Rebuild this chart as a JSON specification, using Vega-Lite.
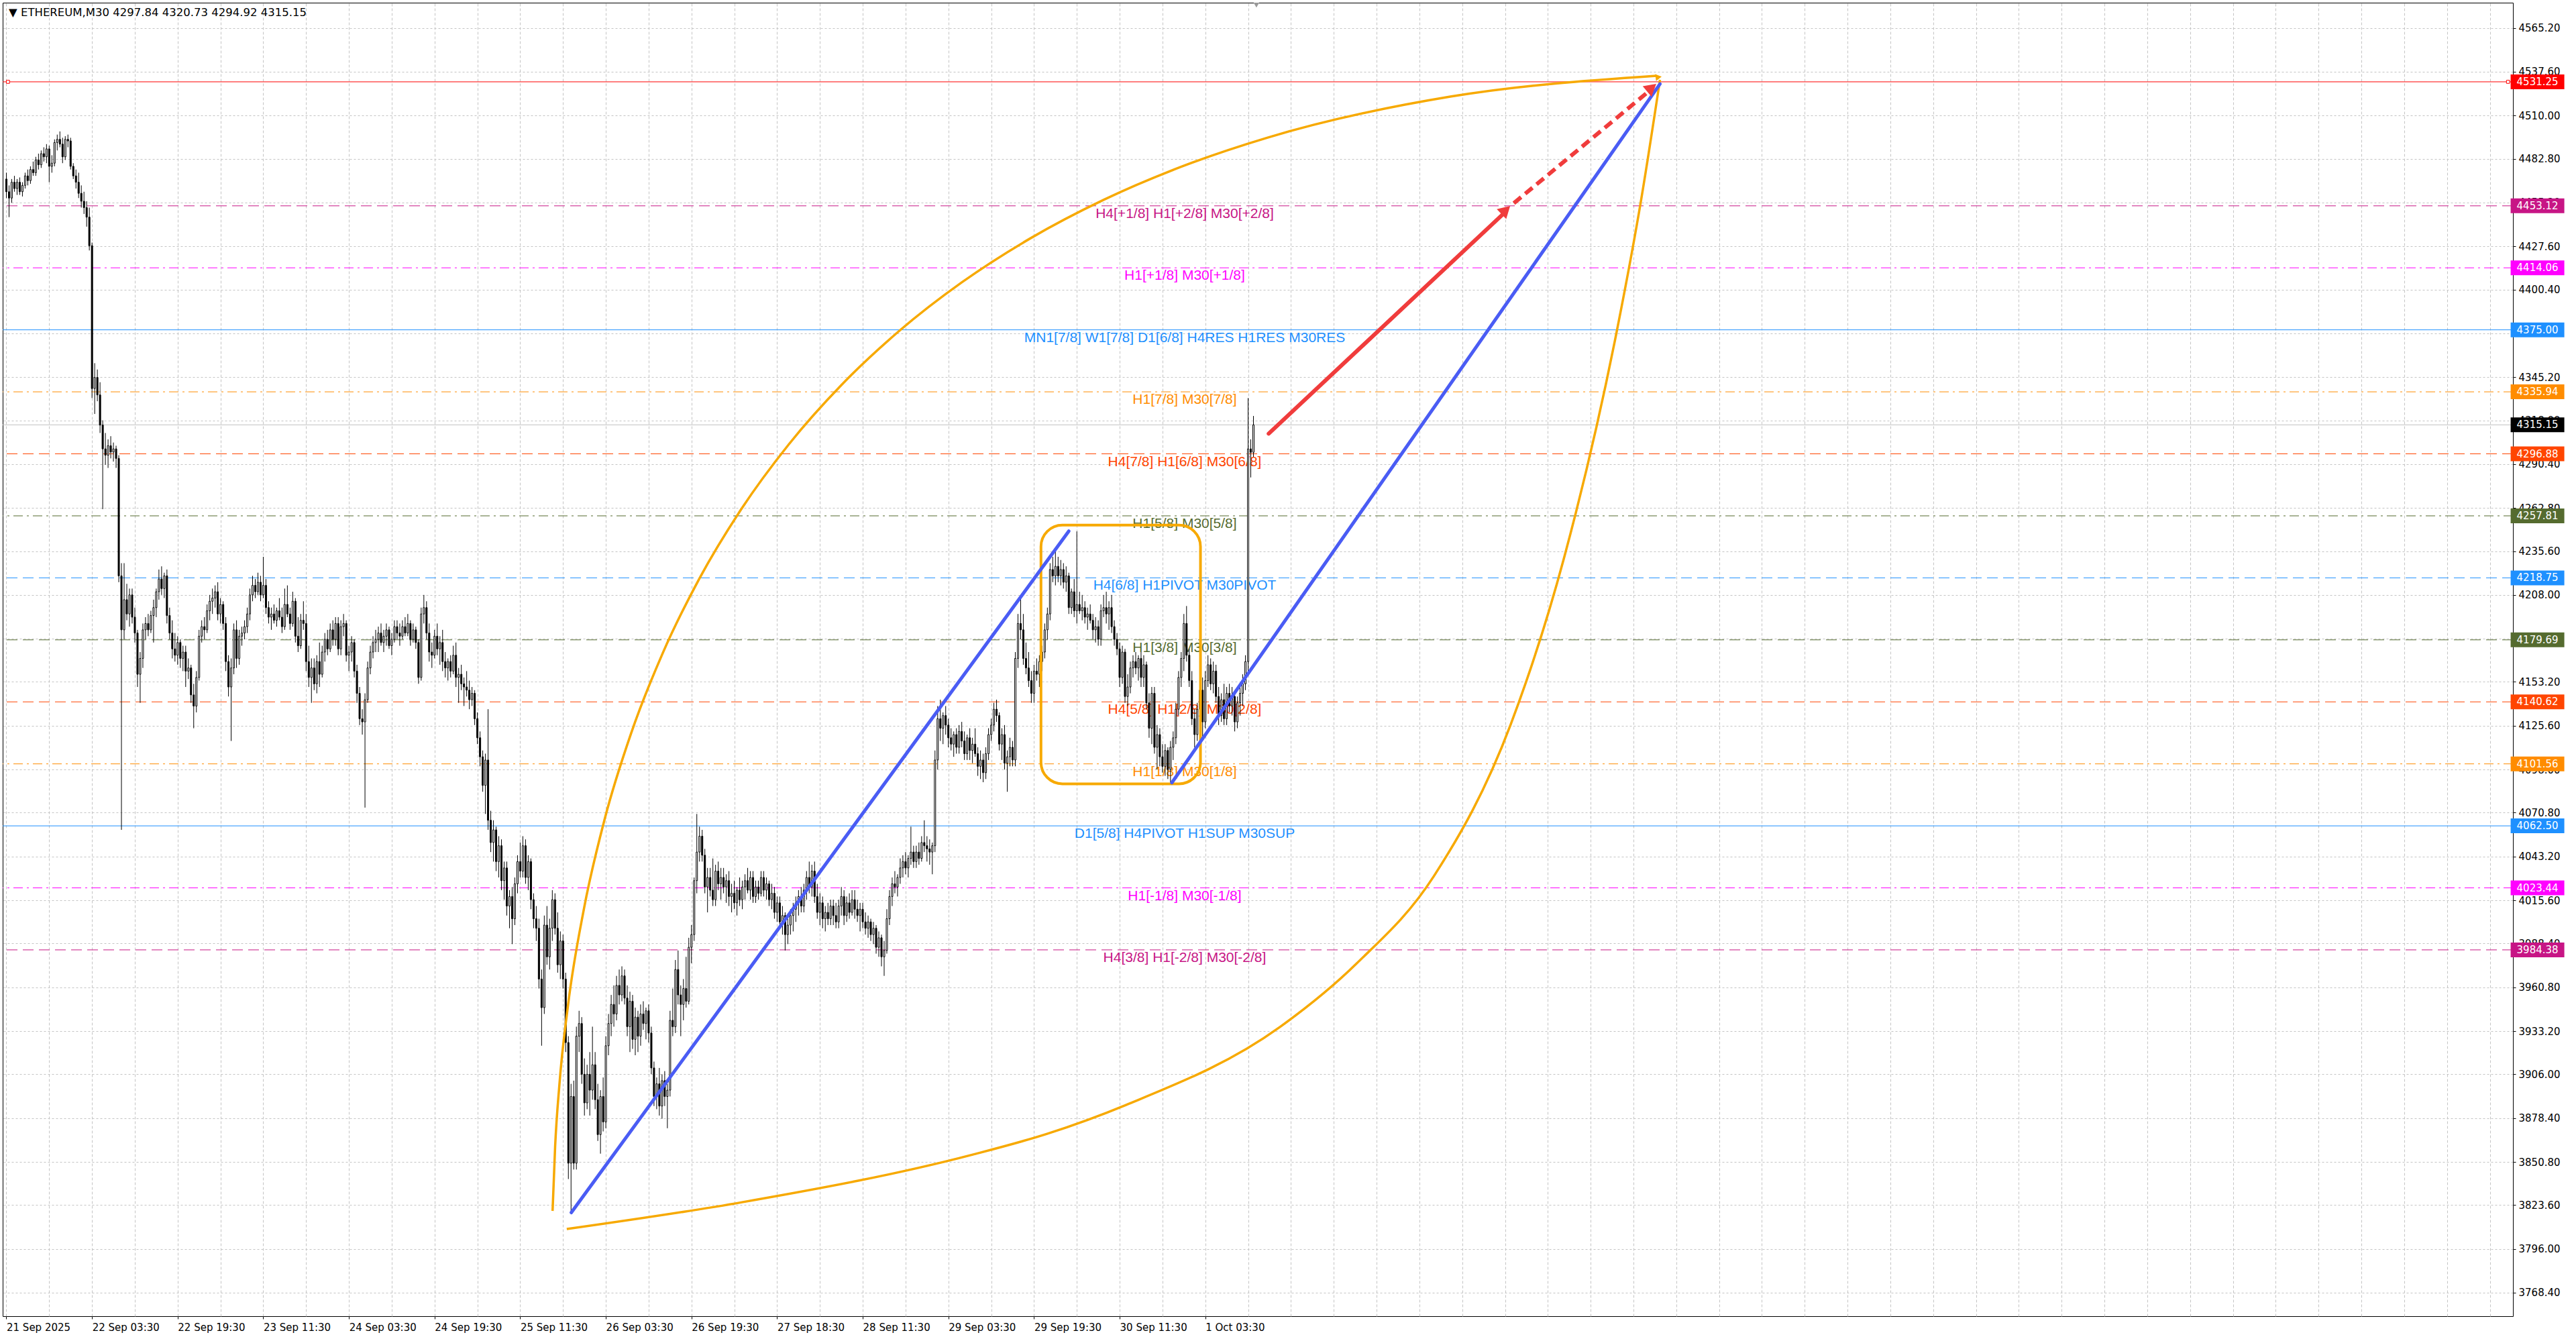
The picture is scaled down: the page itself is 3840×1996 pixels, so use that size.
{
"$schema":"https://vega.github.io/schema/vega-lite/v6.json",
"width":3742,"height":1958,
"autosize":{"type":"none"},
"padding":{"left":4,"top":4,"right":94,"bottom":34},
"background":"white",
"config":{"view":{"stroke":"black","strokeWidth":1},"axis":{"labelFont":"DejaVu Sans","labelColor":"black","title":null}},
"resolve":{"axis":{"x":"independent","y":"independent"}},
"datasets":{
"bars":[
{"i":0,"o":4470,"h":4474,"l":4458,"c":4462},{"i":1,"o":4462,"h":4466,"l":4446,"c":4458},{"i":2,"o":4458,"h":4470,"l":4455,"c":4468},{"i":3,"o":4468,"h":4472,"l":4462,"c":4464},{"i":4,"o":4464,"h":4470,"l":4460,"c":4468},{"i":5,"o":4468,"h":4471,"l":4460,"c":4462},{"i":6,"o":4462,"h":4468,"l":4459,"c":4466},{"i":7,"o":4466,"h":4474,"l":4464,"c":4472},{"i":8,"o":4472,"h":4476,"l":4466,"c":4469},{"i":9,"o":4469,"h":4478,"l":4467,"c":4476},
{"i":10,"o":4476,"h":4481,"l":4472,"c":4474},{"i":11,"o":4474,"h":4484,"l":4472,"c":4482},{"i":12,"o":4482,"h":4486,"l":4476,"c":4479},{"i":13,"o":4479,"h":4488,"l":4477,"c":4486},{"i":14,"o":4486,"h":4490,"l":4481,"c":4484},{"i":15,"o":4484,"h":4492,"l":4480,"c":4489},{"i":16,"o":4489,"h":4491,"l":4468,"c":4478},{"i":17,"o":4478,"h":4485,"l":4474,"c":4480},{"i":18,"o":4480,"h":4495,"l":4478,"c":4493},{"i":19,"o":4493,"h":4498,"l":4488,"c":4495},
{"i":20,"o":4495,"h":4500,"l":4490,"c":4492},{"i":21,"o":4492,"h":4496,"l":4480,"c":4484},{"i":22,"o":4484,"h":4497,"l":4482,"c":4495},{"i":23,"o":4495,"h":4498,"l":4490,"c":4494},{"i":24,"o":4494,"h":4496,"l":4476,"c":4478},{"i":25,"o":4478,"h":4480,"l":4470,"c":4472},{"i":26,"o":4472,"h":4476,"l":4464,"c":4468},{"i":27,"o":4468,"h":4474,"l":4458,"c":4461},{"i":28,"o":4461,"h":4466,"l":4452,"c":4456},{"i":29,"o":4456,"h":4462,"l":4448,"c":4452},
{"i":30,"o":4452,"h":4456,"l":4440,"c":4446},{"i":31,"o":4446,"h":4452,"l":4425,"c":4428},{"i":32,"o":4428,"h":4430,"l":4332,"c":4338},{"i":33,"o":4338,"h":4354,"l":4322,"c":4345},{"i":34,"o":4345,"h":4350,"l":4330,"c":4334},{"i":35,"o":4334,"h":4342,"l":4310,"c":4315},{"i":36,"o":4315,"h":4318,"l":4262,"c":4300},{"i":37,"o":4300,"h":4310,"l":4290,"c":4296},{"i":38,"o":4296,"h":4306,"l":4288,"c":4302},{"i":39,"o":4302,"h":4308,"l":4294,"c":4298},
{"i":40,"o":4298,"h":4304,"l":4292,"c":4300},{"i":41,"o":4300,"h":4302,"l":4288,"c":4294},{"i":42,"o":4294,"h":4296,"l":4216,"c":4220},{"i":43,"o":4220,"h":4228,"l":4060,"c":4186},{"i":44,"o":4186,"h":4228,"l":4180,"c":4205},{"i":45,"o":4205,"h":4215,"l":4192,"c":4196},{"i":46,"o":4196,"h":4212,"l":4188,"c":4208},{"i":47,"o":4208,"h":4212,"l":4190,"c":4194},{"i":48,"o":4194,"h":4200,"l":4178,"c":4184},{"i":49,"o":4184,"h":4186,"l":4150,"c":4158},
{"i":50,"o":4158,"h":4172,"l":4140,"c":4168},{"i":51,"o":4168,"h":4190,"l":4162,"c":4186},{"i":52,"o":4186,"h":4194,"l":4180,"c":4190},{"i":53,"o":4190,"h":4196,"l":4182,"c":4186},{"i":54,"o":4186,"h":4198,"l":4184,"c":4195},{"i":55,"o":4195,"h":4205,"l":4178,"c":4200},{"i":56,"o":4200,"h":4212,"l":4194,"c":4210},{"i":57,"o":4210,"h":4224,"l":4205,"c":4218},{"i":58,"o":4218,"h":4226,"l":4208,"c":4212},{"i":59,"o":4212,"h":4222,"l":4206,"c":4220},
{"i":60,"o":4220,"h":4224,"l":4190,"c":4195},{"i":61,"o":4195,"h":4200,"l":4180,"c":4184},{"i":62,"o":4184,"h":4192,"l":4168,"c":4174},{"i":63,"o":4174,"h":4184,"l":4166,"c":4170},{"i":64,"o":4170,"h":4182,"l":4164,"c":4178},{"i":65,"o":4178,"h":4180,"l":4162,"c":4168},{"i":66,"o":4168,"h":4176,"l":4160,"c":4172},{"i":67,"o":4172,"h":4176,"l":4150,"c":4160},{"i":68,"o":4160,"h":4168,"l":4155,"c":4162},{"i":69,"o":4162,"h":4164,"l":4140,"c":4145},
{"i":70,"o":4145,"h":4152,"l":4124,"c":4138},{"i":71,"o":4138,"h":4160,"l":4134,"c":4156},{"i":72,"o":4156,"h":4186,"l":4154,"c":4182},{"i":73,"o":4182,"h":4192,"l":4178,"c":4188},{"i":74,"o":4188,"h":4194,"l":4180,"c":4186},{"i":75,"o":4186,"h":4202,"l":4184,"c":4198},{"i":76,"o":4198,"h":4208,"l":4192,"c":4204},{"i":77,"o":4204,"h":4212,"l":4196,"c":4206},{"i":78,"o":4206,"h":4214,"l":4200,"c":4210},{"i":79,"o":4210,"h":4216,"l":4192,"c":4196},
{"i":80,"o":4196,"h":4206,"l":4190,"c":4202},{"i":81,"o":4202,"h":4204,"l":4186,"c":4190},{"i":82,"o":4190,"h":4194,"l":4160,"c":4166},{"i":83,"o":4166,"h":4170,"l":4144,"c":4150},{"i":84,"o":4150,"h":4168,"l":4116,"c":4162},{"i":85,"o":4162,"h":4190,"l":4158,"c":4186},{"i":86,"o":4186,"h":4192,"l":4162,"c":4168},{"i":87,"o":4168,"h":4186,"l":4164,"c":4182},{"i":88,"o":4182,"h":4188,"l":4176,"c":4184},{"i":89,"o":4184,"h":4192,"l":4180,"c":4188},
{"i":90,"o":4188,"h":4200,"l":4184,"c":4196},{"i":91,"o":4196,"h":4212,"l":4192,"c":4208},{"i":92,"o":4208,"h":4220,"l":4204,"c":4214},{"i":93,"o":4214,"h":4218,"l":4206,"c":4210},{"i":94,"o":4210,"h":4222,"l":4208,"c":4216},{"i":95,"o":4216,"h":4220,"l":4204,"c":4208},{"i":96,"o":4208,"h":4232,"l":4206,"c":4214},{"i":97,"o":4214,"h":4218,"l":4196,"c":4200},{"i":98,"o":4200,"h":4204,"l":4190,"c":4194},{"i":99,"o":4194,"h":4200,"l":4186,"c":4196},
{"i":100,"o":4196,"h":4202,"l":4190,"c":4192},{"i":101,"o":4192,"h":4200,"l":4188,"c":4198},{"i":102,"o":4198,"h":4206,"l":4192,"c":4194},{"i":103,"o":4194,"h":4200,"l":4184,"c":4188},{"i":104,"o":4188,"h":4212,"l":4186,"c":4202},{"i":105,"o":4202,"h":4214,"l":4194,"c":4196},{"i":106,"o":4196,"h":4200,"l":4186,"c":4190},{"i":107,"o":4190,"h":4210,"l":4188,"c":4204},{"i":108,"o":4204,"h":4206,"l":4178,"c":4182},{"i":109,"o":4182,"h":4194,"l":4172,"c":4176},
{"i":110,"o":4176,"h":4196,"l":4174,"c":4192},{"i":111,"o":4192,"h":4204,"l":4186,"c":4190},{"i":112,"o":4190,"h":4196,"l":4160,"c":4166},{"i":113,"o":4166,"h":4176,"l":4150,"c":4156},{"i":114,"o":4156,"h":4168,"l":4140,"c":4162},{"i":115,"o":4162,"h":4168,"l":4148,"c":4152},{"i":116,"o":4152,"h":4170,"l":4146,"c":4166},{"i":117,"o":4166,"h":4178,"l":4150,"c":4158},{"i":118,"o":4158,"h":4176,"l":4156,"c":4172},{"i":119,"o":4172,"h":4184,"l":4166,"c":4180},
{"i":120,"o":4180,"h":4186,"l":4170,"c":4174},{"i":121,"o":4174,"h":4190,"l":4172,"c":4186},{"i":122,"o":4186,"h":4192,"l":4176,"c":4180},{"i":123,"o":4180,"h":4194,"l":4176,"c":4190},{"i":124,"o":4190,"h":4194,"l":4170,"c":4174},{"i":125,"o":4174,"h":4192,"l":4170,"c":4188},{"i":126,"o":4188,"h":4196,"l":4182,"c":4190},{"i":127,"o":4190,"h":4192,"l":4166,"c":4170},{"i":128,"o":4170,"h":4176,"l":4160,"c":4172},{"i":129,"o":4172,"h":4182,"l":4166,"c":4178},
{"i":130,"o":4178,"h":4180,"l":4156,"c":4160},{"i":131,"o":4160,"h":4164,"l":4140,"c":4146},{"i":132,"o":4146,"h":4150,"l":4126,"c":4130},{"i":133,"o":4130,"h":4136,"l":4120,"c":4128},{"i":134,"o":4128,"h":4146,"l":4074,"c":4142},{"i":135,"o":4142,"h":4166,"l":4140,"c":4162},{"i":136,"o":4162,"h":4176,"l":4158,"c":4172},{"i":137,"o":4172,"h":4182,"l":4168,"c":4178},{"i":138,"o":4178,"h":4186,"l":4172,"c":4180},{"i":139,"o":4180,"h":4188,"l":4172,"c":4184},
{"i":140,"o":4184,"h":4190,"l":4176,"c":4178},{"i":141,"o":4178,"h":4186,"l":4172,"c":4182},{"i":142,"o":4182,"h":4190,"l":4176,"c":4186},{"i":143,"o":4186,"h":4188,"l":4174,"c":4176},{"i":144,"o":4176,"h":4184,"l":4170,"c":4180},{"i":145,"o":4180,"h":4192,"l":4178,"c":4188},{"i":146,"o":4188,"h":4192,"l":4180,"c":4184},{"i":147,"o":4184,"h":4190,"l":4176,"c":4182},{"i":148,"o":4182,"h":4192,"l":4180,"c":4188},{"i":149,"o":4188,"h":4194,"l":4182,"c":4184},
{"i":150,"o":4184,"h":4196,"l":4182,"c":4190},{"i":151,"o":4190,"h":4192,"l":4176,"c":4180},{"i":152,"o":4180,"h":4190,"l":4178,"c":4186},{"i":153,"o":4186,"h":4188,"l":4174,"c":4178},{"i":154,"o":4178,"h":4180,"l":4152,"c":4156},{"i":155,"o":4156,"h":4200,"l":4154,"c":4196},{"i":156,"o":4196,"h":4208,"l":4190,"c":4200},{"i":157,"o":4200,"h":4204,"l":4180,"c":4184},{"i":158,"o":4184,"h":4190,"l":4166,"c":4172},{"i":159,"o":4172,"h":4178,"l":4162,"c":4170},
{"i":160,"o":4170,"h":4186,"l":4168,"c":4182},{"i":161,"o":4182,"h":4190,"l":4170,"c":4174},{"i":162,"o":4174,"h":4182,"l":4164,"c":4178},{"i":163,"o":4178,"h":4186,"l":4160,"c":4166},{"i":164,"o":4166,"h":4172,"l":4156,"c":4162},{"i":165,"o":4162,"h":4168,"l":4154,"c":4166},{"i":166,"o":4166,"h":4170,"l":4156,"c":4160},{"i":167,"o":4160,"h":4176,"l":4158,"c":4170},{"i":168,"o":4170,"h":4178,"l":4150,"c":4156},{"i":169,"o":4156,"h":4162,"l":4140,"c":4158},
{"i":170,"o":4158,"h":4164,"l":4148,"c":4152},{"i":171,"o":4152,"h":4156,"l":4138,"c":4150},{"i":172,"o":4150,"h":4160,"l":4144,"c":4148},{"i":173,"o":4148,"h":4154,"l":4136,"c":4142},{"i":174,"o":4142,"h":4150,"l":4138,"c":4146},{"i":175,"o":4146,"h":4148,"l":4126,"c":4130},{"i":176,"o":4130,"h":4134,"l":4114,"c":4118},{"i":177,"o":4118,"h":4122,"l":4100,"c":4106},{"i":178,"o":4106,"h":4110,"l":4084,"c":4088},{"i":179,"o":4088,"h":4108,"l":4070,"c":4104},
{"i":180,"o":4104,"h":4136,"l":4060,"c":4066},{"i":181,"o":4066,"h":4072,"l":4046,"c":4052},{"i":182,"o":4052,"h":4066,"l":4040,"c":4060},{"i":183,"o":4060,"h":4062,"l":4034,"c":4040},{"i":184,"o":4040,"h":4056,"l":4030,"c":4050},{"i":185,"o":4050,"h":4054,"l":4022,"c":4028},{"i":186,"o":4028,"h":4040,"l":4016,"c":4036},{"i":187,"o":4036,"h":4040,"l":4006,"c":4012},{"i":188,"o":4012,"h":4022,"l":3998,"c":4018},{"i":189,"o":4018,"h":4024,"l":3988,"c":4004},
{"i":190,"o":4004,"h":4030,"l":4000,"c":4026},{"i":191,"o":4026,"h":4044,"l":4020,"c":4040},{"i":192,"o":4040,"h":4052,"l":4030,"c":4034},{"i":193,"o":4034,"h":4056,"l":4030,"c":4050},{"i":194,"o":4050,"h":4054,"l":4026,"c":4030},{"i":195,"o":4030,"h":4044,"l":4022,"c":4040},{"i":196,"o":4040,"h":4042,"l":4010,"c":4016},{"i":197,"o":4016,"h":4020,"l":3998,"c":4004},{"i":198,"o":4004,"h":4012,"l":3990,"c":3998},{"i":199,"o":3998,"h":4004,"l":3960,"c":3966},
{"i":200,"o":3966,"h":3972,"l":3924,"c":3948},{"i":201,"o":3948,"h":4006,"l":3944,"c":4000},{"i":202,"o":4000,"h":4012,"l":3975,"c":3980},{"i":203,"o":3980,"h":4004,"l":3972,"c":3998},{"i":204,"o":3998,"h":4022,"l":3990,"c":4016},{"i":205,"o":4016,"h":4020,"l":3994,"c":3998},{"i":206,"o":3998,"h":4008,"l":3970,"c":3975},{"i":207,"o":3975,"h":3996,"l":3966,"c":3990},{"i":208,"o":3990,"h":3994,"l":3960,"c":3966},{"i":209,"o":3966,"h":3970,"l":3920,"c":3926},
{"i":210,"o":3926,"h":3930,"l":3840,"c":3850},{"i":211,"o":3850,"h":3900,"l":3819,"c":3892},{"i":212,"o":3892,"h":3902,"l":3846,"c":3850},{"i":213,"o":3850,"h":3936,"l":3846,"c":3930},{"i":214,"o":3930,"h":3946,"l":3920,"c":3938},{"i":215,"o":3938,"h":3942,"l":3900,"c":3906},{"i":216,"o":3906,"h":3916,"l":3880,"c":3888},{"i":217,"o":3888,"h":3912,"l":3884,"c":3906},{"i":218,"o":3906,"h":3920,"l":3880,"c":3896},{"i":219,"o":3896,"h":3936,"l":3890,"c":3912},
{"i":220,"o":3912,"h":3920,"l":3884,"c":3890},{"i":221,"o":3890,"h":3900,"l":3864,"c":3868},{"i":222,"o":3868,"h":3896,"l":3856,"c":3892},{"i":223,"o":3892,"h":3904,"l":3870,"c":3876},{"i":224,"o":3876,"h":3930,"l":3872,"c":3924},{"i":225,"o":3924,"h":3944,"l":3918,"c":3938},{"i":226,"o":3938,"h":3956,"l":3930,"c":3950},{"i":227,"o":3950,"h":3962,"l":3936,"c":3944},{"i":228,"o":3944,"h":3968,"l":3940,"c":3962},{"i":229,"o":3962,"h":3972,"l":3950,"c":3956},
{"i":230,"o":3956,"h":3974,"l":3952,"c":3968},{"i":231,"o":3968,"h":3972,"l":3950,"c":3954},{"i":232,"o":3954,"h":3962,"l":3930,"c":3936},{"i":233,"o":3936,"h":3958,"l":3920,"c":3952},{"i":234,"o":3952,"h":3956,"l":3922,"c":3928},{"i":235,"o":3928,"h":3948,"l":3918,"c":3942},{"i":236,"o":3942,"h":3946,"l":3920,"c":3930},{"i":237,"o":3930,"h":3950,"l":3924,"c":3944},{"i":238,"o":3944,"h":3952,"l":3934,"c":3938},{"i":239,"o":3938,"h":3948,"l":3928,"c":3946},
{"i":240,"o":3946,"h":3950,"l":3926,"c":3932},{"i":241,"o":3932,"h":3936,"l":3906,"c":3910},{"i":242,"o":3910,"h":3914,"l":3886,"c":3892},{"i":243,"o":3892,"h":3904,"l":3884,"c":3900},{"i":244,"o":3900,"h":3910,"l":3880,"c":3886},{"i":245,"o":3886,"h":3906,"l":3878,"c":3902},{"i":246,"o":3902,"h":3908,"l":3886,"c":3892},{"i":247,"o":3892,"h":3900,"l":3872,"c":3896},{"i":248,"o":3896,"h":3946,"l":3892,"c":3940},{"i":249,"o":3940,"h":3960,"l":3930,"c":3936},
{"i":250,"o":3936,"h":3978,"l":3932,"c":3972},{"i":251,"o":3972,"h":3984,"l":3950,"c":3956},{"i":252,"o":3956,"h":3962,"l":3930,"c":3950},{"i":253,"o":3950,"h":3966,"l":3940,"c":3960},{"i":254,"o":3960,"h":3980,"l":3948,"c":3952},{"i":255,"o":3952,"h":3992,"l":3950,"c":3986},{"i":256,"o":3986,"h":4000,"l":3976,"c":3994},{"i":257,"o":3994,"h":4030,"l":3990,"c":4028},{"i":258,"o":4028,"h":4070,"l":4020,"c":4046},{"i":259,"o":4046,"h":4062,"l":4040,"c":4056},
{"i":260,"o":4056,"h":4060,"l":4040,"c":4044},{"i":261,"o":4044,"h":4048,"l":4020,"c":4024},{"i":262,"o":4024,"h":4036,"l":4008,"c":4030},{"i":263,"o":4030,"h":4036,"l":4018,"c":4022},{"i":264,"o":4022,"h":4042,"l":4012,"c":4016},{"i":265,"o":4016,"h":4038,"l":4012,"c":4034},{"i":266,"o":4034,"h":4040,"l":4022,"c":4026},{"i":267,"o":4026,"h":4036,"l":4016,"c":4030},{"i":268,"o":4030,"h":4036,"l":4020,"c":4024},{"i":269,"o":4024,"h":4032,"l":4014,"c":4028},
{"i":270,"o":4028,"h":4034,"l":4012,"c":4018},{"i":271,"o":4018,"h":4026,"l":4008,"c":4020},{"i":272,"o":4020,"h":4028,"l":4010,"c":4014},{"i":273,"o":4014,"h":4024,"l":4006,"c":4022},{"i":274,"o":4022,"h":4030,"l":4012,"c":4016},{"i":275,"o":4016,"h":4028,"l":4010,"c":4024},{"i":276,"o":4024,"h":4032,"l":4016,"c":4028},{"i":277,"o":4028,"h":4036,"l":4020,"c":4022},{"i":278,"o":4022,"h":4034,"l":4016,"c":4030},{"i":279,"o":4030,"h":4034,"l":4014,"c":4018},
{"i":280,"o":4018,"h":4028,"l":4014,"c":4024},{"i":281,"o":4024,"h":4028,"l":4016,"c":4020},{"i":282,"o":4020,"h":4034,"l":4018,"c":4030},{"i":283,"o":4030,"h":4034,"l":4018,"c":4022},{"i":284,"o":4022,"h":4030,"l":4016,"c":4026},{"i":285,"o":4026,"h":4028,"l":4012,"c":4016},{"i":286,"o":4016,"h":4026,"l":4010,"c":4020},{"i":287,"o":4020,"h":4024,"l":4004,"c":4008},{"i":288,"o":4008,"h":4018,"l":4002,"c":4014},{"i":289,"o":4014,"h":4018,"l":3998,"c":4002},
{"i":290,"o":4002,"h":4012,"l":3994,"c":4006},{"i":291,"o":4006,"h":4008,"l":3984,"c":3994},{"i":292,"o":3994,"h":4004,"l":3988,"c":4000},{"i":293,"o":4000,"h":4010,"l":3994,"c":4006},{"i":294,"o":4006,"h":4014,"l":3996,"c":4010},{"i":295,"o":4010,"h":4018,"l":4002,"c":4014},{"i":296,"o":4014,"h":4022,"l":4006,"c":4018},{"i":297,"o":4018,"h":4024,"l":4008,"c":4012},{"i":298,"o":4012,"h":4026,"l":4008,"c":4022},{"i":299,"o":4022,"h":4034,"l":4016,"c":4030},
{"i":300,"o":4030,"h":4040,"l":4020,"c":4024},{"i":301,"o":4024,"h":4038,"l":4018,"c":4034},{"i":302,"o":4034,"h":4040,"l":4014,"c":4018},{"i":303,"o":4018,"h":4026,"l":4004,"c":4008},{"i":304,"o":4008,"h":4020,"l":4000,"c":4014},{"i":305,"o":4014,"h":4018,"l":3998,"c":4004},{"i":306,"o":4004,"h":4012,"l":3996,"c":4008},{"i":307,"o":4008,"h":4014,"l":4000,"c":4004},{"i":308,"o":4004,"h":4016,"l":4000,"c":4012},{"i":309,"o":4012,"h":4016,"l":4000,"c":4006},
{"i":310,"o":4006,"h":4014,"l":3998,"c":4002},{"i":311,"o":4002,"h":4016,"l":3998,"c":4012},{"i":312,"o":4012,"h":4024,"l":4006,"c":4018},{"i":313,"o":4018,"h":4022,"l":4000,"c":4006},{"i":314,"o":4006,"h":4018,"l":4002,"c":4014},{"i":315,"o":4014,"h":4020,"l":4004,"c":4008},{"i":316,"o":4008,"h":4022,"l":4006,"c":4016},{"i":317,"o":4016,"h":4022,"l":4004,"c":4010},{"i":318,"o":4010,"h":4016,"l":4002,"c":4006},{"i":319,"o":4006,"h":4014,"l":3996,"c":4010},
{"i":320,"o":4010,"h":4014,"l":3998,"c":4002},{"i":321,"o":4002,"h":4008,"l":3994,"c":3998},{"i":322,"o":3998,"h":4006,"l":3992,"c":4002},{"i":323,"o":4002,"h":4004,"l":3990,"c":3994},{"i":324,"o":3994,"h":4002,"l":3988,"c":3998},{"i":325,"o":3998,"h":4000,"l":3982,"c":3986},{"i":326,"o":3986,"h":3996,"l":3980,"c":3992},{"i":327,"o":3992,"h":3994,"l":3974,"c":3980},{"i":328,"o":3980,"h":3990,"l":3968,"c":3984},{"i":329,"o":3984,"h":4010,"l":3982,"c":4004},
{"i":330,"o":4004,"h":4022,"l":4000,"c":4018},{"i":331,"o":4018,"h":4030,"l":4012,"c":4026},{"i":332,"o":4026,"h":4034,"l":4020,"c":4024},{"i":333,"o":4024,"h":4032,"l":4018,"c":4030},{"i":334,"o":4030,"h":4042,"l":4026,"c":4036},{"i":335,"o":4036,"h":4044,"l":4030,"c":4040},{"i":336,"o":4040,"h":4046,"l":4032,"c":4036},{"i":337,"o":4036,"h":4044,"l":4030,"c":4042},{"i":338,"o":4042,"h":4062,"l":4038,"c":4046},{"i":339,"o":4046,"h":4050,"l":4036,"c":4040},
{"i":340,"o":4040,"h":4050,"l":4036,"c":4046},{"i":341,"o":4046,"h":4052,"l":4038,"c":4042},{"i":342,"o":4042,"h":4056,"l":4040,"c":4052},{"i":343,"o":4052,"h":4066,"l":4046,"c":4050},{"i":344,"o":4050,"h":4056,"l":4040,"c":4048},{"i":345,"o":4048,"h":4054,"l":4038,"c":4046},{"i":346,"o":4046,"h":4052,"l":4032,"c":4050},{"i":347,"o":4050,"h":4110,"l":4046,"c":4104},{"i":348,"o":4104,"h":4138,"l":4098,"c":4130},{"i":349,"o":4130,"h":4142,"l":4116,"c":4124},
{"i":350,"o":4124,"h":4134,"l":4114,"c":4132},{"i":351,"o":4132,"h":4138,"l":4120,"c":4126},{"i":352,"o":4126,"h":4130,"l":4112,"c":4118},{"i":353,"o":4118,"h":4124,"l":4110,"c":4114},{"i":354,"o":4114,"h":4122,"l":4106,"c":4120},{"i":355,"o":4120,"h":4124,"l":4108,"c":4112},{"i":356,"o":4112,"h":4126,"l":4108,"c":4122},{"i":357,"o":4122,"h":4128,"l":4112,"c":4116},{"i":358,"o":4116,"h":4122,"l":4104,"c":4108},{"i":359,"o":4108,"h":4120,"l":4104,"c":4118},
{"i":360,"o":4118,"h":4124,"l":4104,"c":4110},{"i":361,"o":4110,"h":4118,"l":4102,"c":4114},{"i":362,"o":4114,"h":4124,"l":4106,"c":4108},{"i":363,"o":4108,"h":4112,"l":4094,"c":4100},{"i":364,"o":4100,"h":4110,"l":4092,"c":4104},{"i":365,"o":4104,"h":4108,"l":4090,"c":4096},{"i":366,"o":4096,"h":4112,"l":4092,"c":4108},{"i":367,"o":4108,"h":4124,"l":4104,"c":4120},{"i":368,"o":4120,"h":4130,"l":4116,"c":4126},{"i":369,"o":4126,"h":4140,"l":4122,"c":4136},
{"i":370,"o":4136,"h":4142,"l":4128,"c":4132},{"i":371,"o":4132,"h":4134,"l":4110,"c":4114},{"i":372,"o":4114,"h":4124,"l":4104,"c":4120},{"i":373,"o":4120,"h":4126,"l":4098,"c":4102},{"i":374,"o":4102,"h":4110,"l":4084,"c":4106},{"i":375,"o":4106,"h":4118,"l":4100,"c":4112},{"i":376,"o":4112,"h":4116,"l":4100,"c":4104},{"i":377,"o":4104,"h":4172,"l":4100,"c":4168},{"i":378,"o":4168,"h":4196,"l":4162,"c":4190},{"i":379,"o":4190,"h":4206,"l":4180,"c":4186},
{"i":380,"o":4186,"h":4196,"l":4164,"c":4168},{"i":381,"o":4168,"h":4178,"l":4158,"c":4162},{"i":382,"o":4162,"h":4172,"l":4150,"c":4154},{"i":383,"o":4154,"h":4160,"l":4140,"c":4146},{"i":384,"o":4146,"h":4164,"l":4140,"c":4160},{"i":385,"o":4160,"h":4168,"l":4154,"c":4158},{"i":386,"o":4158,"h":4170,"l":4150,"c":4166},{"i":387,"o":4166,"h":4176,"l":4160,"c":4172},{"i":388,"o":4172,"h":4190,"l":4168,"c":4186},{"i":389,"o":4186,"h":4200,"l":4180,"c":4196},
{"i":390,"o":4196,"h":4228,"l":4192,"c":4224},{"i":391,"o":4224,"h":4232,"l":4216,"c":4220},{"i":392,"o":4220,"h":4236,"l":4214,"c":4226},{"i":393,"o":4226,"h":4232,"l":4216,"c":4220},{"i":394,"o":4220,"h":4230,"l":4214,"c":4224},{"i":395,"o":4224,"h":4228,"l":4212,"c":4216},{"i":396,"o":4216,"h":4226,"l":4210,"c":4220},{"i":397,"o":4220,"h":4222,"l":4196,"c":4200},{"i":398,"o":4200,"h":4212,"l":4196,"c":4210},{"i":399,"o":4210,"h":4218,"l":4194,"c":4198},
{"i":400,"o":4198,"h":4248,"l":4190,"c":4202},{"i":401,"o":4202,"h":4210,"l":4196,"c":4198},{"i":402,"o":4198,"h":4208,"l":4192,"c":4200},{"i":403,"o":4200,"h":4204,"l":4190,"c":4194},{"i":404,"o":4194,"h":4200,"l":4186,"c":4196},{"i":405,"o":4196,"h":4202,"l":4190,"c":4192},{"i":406,"o":4192,"h":4196,"l":4180,"c":4186},{"i":407,"o":4186,"h":4194,"l":4178,"c":4188},{"i":408,"o":4188,"h":4192,"l":4176,"c":4180},{"i":409,"o":4180,"h":4202,"l":4176,"c":4198},
{"i":410,"o":4198,"h":4208,"l":4194,"c":4200},{"i":411,"o":4200,"h":4210,"l":4190,"c":4196},{"i":412,"o":4196,"h":4204,"l":4186,"c":4200},{"i":413,"o":4200,"h":4208,"l":4184,"c":4188},{"i":414,"o":4188,"h":4192,"l":4176,"c":4180},{"i":415,"o":4180,"h":4184,"l":4170,"c":4174},{"i":416,"o":4174,"h":4178,"l":4150,"c":4156},{"i":417,"o":4156,"h":4176,"l":4152,"c":4172},{"i":418,"o":4172,"h":4174,"l":4140,"c":4144},{"i":419,"o":4144,"h":4158,"l":4138,"c":4150},
{"i":420,"o":4150,"h":4166,"l":4146,"c":4162},{"i":421,"o":4162,"h":4170,"l":4156,"c":4166},{"i":422,"o":4166,"h":4172,"l":4158,"c":4162},{"i":423,"o":4162,"h":4170,"l":4154,"c":4168},{"i":424,"o":4168,"h":4172,"l":4150,"c":4156},{"i":425,"o":4156,"h":4170,"l":4150,"c":4164},{"i":426,"o":4164,"h":4166,"l":4136,"c":4140},{"i":427,"o":4140,"h":4146,"l":4118,"c":4124},{"i":428,"o":4124,"h":4150,"l":4114,"c":4146},{"i":429,"o":4146,"h":4150,"l":4108,"c":4112},
{"i":430,"o":4112,"h":4126,"l":4098,"c":4120},{"i":431,"o":4120,"h":4124,"l":4100,"c":4106},{"i":432,"o":4106,"h":4114,"l":4096,"c":4100},{"i":433,"o":4100,"h":4114,"l":4094,"c":4110},{"i":434,"o":4110,"h":4112,"l":4092,"c":4098},{"i":435,"o":4098,"h":4116,"l":4090,"c":4112},{"i":436,"o":4112,"h":4122,"l":4104,"c":4118},{"i":437,"o":4118,"h":4140,"l":4114,"c":4136},{"i":438,"o":4136,"h":4160,"l":4132,"c":4156},{"i":439,"o":4156,"h":4172,"l":4150,"c":4168},
{"i":440,"o":4168,"h":4196,"l":4160,"c":4190},{"i":441,"o":4190,"h":4201,"l":4166,"c":4170},{"i":442,"o":4170,"h":4174,"l":4150,"c":4154},{"i":443,"o":4154,"h":4160,"l":4126,"c":4130},{"i":444,"o":4130,"h":4136,"l":4112,"c":4120},{"i":445,"o":4120,"h":4140,"l":4116,"c":4136},{"i":446,"o":4136,"h":4152,"l":4130,"c":4148},{"i":447,"o":4148,"h":4156,"l":4118,"c":4128},{"i":448,"o":4128,"h":4160,"l":4124,"c":4154},{"i":449,"o":4154,"h":4170,"l":4150,"c":4164},
{"i":450,"o":4164,"h":4168,"l":4148,"c":4152},{"i":451,"o":4152,"h":4166,"l":4146,"c":4160},{"i":452,"o":4160,"h":4164,"l":4140,"c":4144},{"i":453,"o":4144,"h":4150,"l":4126,"c":4132},{"i":454,"o":4132,"h":4146,"l":4128,"c":4142},{"i":455,"o":4142,"h":4152,"l":4126,"c":4130},{"i":456,"o":4130,"h":4150,"l":4126,"c":4146},{"i":457,"o":4146,"h":4152,"l":4134,"c":4138},{"i":458,"o":4138,"h":4150,"l":4132,"c":4144},{"i":459,"o":4144,"h":4148,"l":4122,"c":4128},
{"i":460,"o":4128,"h":4144,"l":4124,"c":4140},{"i":461,"o":4140,"h":4150,"l":4132,"c":4146},{"i":462,"o":4146,"h":4158,"l":4138,"c":4152},{"i":463,"o":4152,"h":4170,"l":4148,"c":4166},{"i":464,"o":4166,"h":4332,"l":4160,"c":4300},{"i":465,"o":4300,"h":4306,"l":4282,"c":4297.84},{"i":466,"o":4297.84,"h":4320.73,"l":4294.92,"c":4315.15}
],
"levels":[
{"k":"4531.25","p":4531.25,"lab":""},
{"k":"4453.12","p":4453.12,"lab":"H4[+1/8] H1[+2/8] M30[+2/8]"},
{"k":"4414.06","p":4414.06,"lab":"H1[+1/8] M30[+1/8]"},
{"k":"4375.00","p":4375.00,"lab":"MN1[7/8] W1[7/8] D1[6/8] H4RES H1RES M30RES"},
{"k":"4335.94","p":4335.94,"lab":"H1[7/8] M30[7/8]"},
{"k":"4296.88","p":4296.88,"lab":"H4[7/8] H1[6/8] M30[6/8]"},
{"k":"4257.81","p":4257.81,"lab":"H1[5/8] M30[5/8]"},
{"k":"4218.75","p":4218.75,"lab":"H4[6/8] H1PIVOT M30PIVOT"},
{"k":"4179.69","p":4179.69,"lab":"H1[3/8] M30[3/8]"},
{"k":"4140.62","p":4140.62,"lab":"H4[5/8] H1[2/8] M30[2/8]"},
{"k":"4101.56","p":4101.56,"lab":"H1[1/8] M30[1/8]"},
{"k":"4062.50","p":4062.50,"lab":"D1[5/8] H4PIVOT H1SUP M30SUP"},
{"k":"4023.44","p":4023.44,"lab":"H1[-1/8] M30[-1/8]"},
{"k":"3984.38","p":3984.38,"lab":"H4[3/8] H1[-2/8] M30[-2/8]"}
],
"tags":[
{"k":"4531.25","p":4531.25},{"k":"4453.12","p":4453.12},{"k":"4414.06","p":4414.06},{"k":"4375.00","p":4375.00},{"k":"4335.94","p":4335.94},{"k":"4315.15","p":4315.15},{"k":"4296.88","p":4296.88},{"k":"4257.81","p":4257.81},{"k":"4218.75","p":4218.75},{"k":"4179.69","p":4179.69},{"k":"4140.62","p":4140.62},{"k":"4101.56","p":4101.56},{"k":"4062.50","p":4062.50},{"k":"4023.44","p":4023.44},{"k":"3984.38","p":3984.38}
],
"curves":[
{"s":"upper","n":1,"x":204.1,"p":3819.9},{"s":"upper","n":2,"x":205.05,"p":3860.3},{"s":"upper","n":3,"x":206.65,"p":3899.5},{"s":"upper","n":4,"x":209.9,"p":3949.9},{"s":"upper","n":5,"x":215.8,"p":4010.1},{"s":"upper","n":6,"x":223.6,"p":4067.0},{"s":"upper","n":7,"x":233.4,"p":4120.6},{"s":"upper","n":8,"x":245.15,"p":4170.9},{"s":"upper","n":9,"x":258.9,"p":4218.1},{"s":"upper","n":10,"x":274.6,"p":4262.0},{"s":"upper","n":11,"x":292.25,"p":4302.6},{"s":"upper","n":12,"x":311.9,"p":4340.0},{"s":"upper","n":13,"x":333.5,"p":4374.1},{"s":"upper","n":14,"x":357.1,"p":4405.0},{"s":"upper","n":15,"x":382.6,"p":4432.6},{"s":"upper","n":16,"x":410.15,"p":4457.0},{"s":"upper","n":17,"x":439.6,"p":4478.1},{"s":"upper","n":18,"x":471.1,"p":4496.0},{"s":"upper","n":19,"x":539.9,"p":4522.0},{"s":"upper","n":20,"x":616.6,"p":4535.0},
{"s":"lower","n":1,"x":209.4,"p":3808.5},{"s":"lower","n":2,"x":274.9,"p":3825.4},{"s":"lower","n":3,"x":361.1,"p":3855.4},{"s":"lower","n":4,"x":388.9,"p":3868.5},{"s":"lower","n":5,"x":418.4,"p":3886.7},{"s":"lower","n":6,"x":475.9,"p":3935.8},{"s":"lower","n":7,"x":504.6,"p":3975.9},{"s":"lower","n":8,"x":533.4,"p":4030.8},{"s":"lower","n":9,"x":562.1,"p":4126.3},{"s":"lower","n":10,"x":582.1,"p":4231.6},{"s":"lower","n":11,"x":602.1,"p":4377.0},{"s":"lower","n":12,"x":610.9,"p":4457.3},{"s":"lower","n":13,"x":617.9,"p":4532.5}
],
"trend":[
{"s":"t1","x":211.1,"p":3818.9},{"s":"t1","x":397.0,"p":4248.2},
{"s":"t2","x":435.5,"p":4089.7},{"s":"t2","x":617.9,"p":4529.9}
],
"box":[{"x1":386.6,"x2":446.2,"p1":4252.0,"p2":4089.0}],
"arrowSolid":[{"x":471.7,"p":4309.6},{"x":559.0,"p":4447.5}],
"arrowDash":[{"x":563.3,"p":4454.8},{"x":612.8,"p":4524.0}],
"heads":[{"x":560.3,"p":4450.5,"a":46.7},{"x":614.8,"p":4527.6,"a":50}],
"ends":[{"x":0.6,"p":4531.25},{"x":934.8,"p":4531.25}]
},
"layer":[
{"data":{"name":"levels"},"mark":{"type":"rule"},
 "encoding":{
  "y":{"field":"p","type":"quantitative","scale":{"domain":[3753.6,4581.1],"nice":false,"zero":false},"axis":null},
  "color":{"field":"k","type":"nominal","legend":null,"scale":{"domain":["4531.25","4453.12","4414.06","4375.00","4335.94","4315.15","4296.88","4257.81","4218.75","4179.69","4140.62","4101.56","4062.50","4023.44","3984.38"],"range":["#ff0000","#c71585","#ff00ff","#1e90ff","#ff8c00","#000000","#ff4500","#556b2f","#1e90ff","#556b2f","#ff4500","#ff8c00","#1e90ff","#ff00ff","#c71585"]}},
  "strokeDash":{"field":"k","type":"nominal","legend":null,"scale":{"domain":["4531.25","4453.12","4414.06","4375.00","4335.94","4296.88","4257.81","4218.75","4179.69","4140.62","4101.56","4062.50","4023.44","3984.38"],"range":[[1,0],[16,8],[14,6,3,6],[1,0],[14,6,3,6],[16,8],[14,6,3,6],[16,8],[16,8],[16,8],[14,6,3,6],[1,0],[14,6,3,6],[16,8]]}},
  "strokeWidth":{"field":"k","type":"nominal","legend":null,"scale":{"domain":["4531.25","4453.12","4414.06","4375.00","4335.94","4296.88","4257.81","4218.75","4179.69","4140.62","4101.56","4062.50","4023.44","3984.38"],"range":[1,1,1,2,1,1,1,1,1,1,1,1,1,1]}}
 }},
{"data":{"values":[{"p":4315.15}]},"mark":{"type":"rule","color":"#c0c0c0","strokeWidth":1},
 "encoding":{"y":{"field":"p","type":"quantitative","scale":{"domain":[3753.6,4581.1],"nice":false,"zero":false},"axis":null}}},
{"data":{"name":"levels"},"mark":{"type":"text","font":"Liberation Sans","fontSize":21,"align":"center","baseline":"top","dy":1},
 "encoding":{
  "x":{"datum":440.3,"type":"quantitative","scale":{"domain":[-0.125,935.375],"nice":false,"zero":false},"axis":null},
  "y":{"field":"p","type":"quantitative","scale":{"domain":[3753.6,4581.1],"nice":false,"zero":false},"axis":null},
  "text":{"field":"lab"},
  "color":{"field":"k","type":"nominal","legend":null,"scale":{"domain":["4531.25","4453.12","4414.06","4375.00","4335.94","4315.15","4296.88","4257.81","4218.75","4179.69","4140.62","4101.56","4062.50","4023.44","3984.38"],"range":["#ff0000","#c71585","#ff00ff","#1e90ff","#ff8c00","#000000","#ff4500","#556b2f","#1e90ff","#556b2f","#ff4500","#ff8c00","#1e90ff","#ff00ff","#c71585"]}}
 }},
{"data":{"name":"bars"},"mark":{"type":"rule","color":"black","strokeWidth":1},
 "encoding":{
  "x":{"field":"i","type":"quantitative","scale":{"domain":[-0.125,935.375],"nice":false,"zero":false},
   "axis":{"orient":"top","values":[0,16,32,48,64,80,96,112,128,144,160,176,192,208,224,240,256,272,288,304,320,336,352,368,384,400,416,432,448,464,480,496,512,528,544,560,576,592,608,624,640,656,672,688,704,720,736,752,768,784,800,816,832,848,864,880,896,912,928],"labels":false,"ticks":false,"domain":false,"grid":true,"gridColor":"#c4c4c4","gridDash":[4,3],"gridWidth":1}},
  "y":{"field":"l","type":"quantitative","scale":{"domain":[3753.6,4581.1],"nice":false,"zero":false},"axis":null},
  "y2":{"field":"h"}
 }},
{"data":{"name":"bars"},"mark":{"type":"bar","orient":"vertical","size":2,"stroke":"black","strokeWidth":1},
 "encoding":{
  "x":{"field":"i","type":"quantitative","scale":{"domain":[-0.125,935.375],"nice":false,"zero":false},
   "axis":{"orient":"bottom","values":[0,32,64,96,128,160,192,224,256,288,320,352,384,416,448],"labelExpr":"['21 Sep 2025','22 Sep 03:30','22 Sep 19:30','23 Sep 11:30','24 Sep 03:30','24 Sep 19:30','25 Sep 11:30','26 Sep 03:30','26 Sep 19:30','27 Sep 18:30','28 Sep 11:30','29 Sep 03:30','29 Sep 19:30','30 Sep 11:30','1 Oct 03:30'][round(datum.value/32)]","labelAlign":"left","labelBaseline":"top","labelPadding":5,"labelFontSize":15,"labelFlush":false,"labelOverlap":false,"labelBound":false,"tickSize":4,"tickColor":"black","domain":false,"grid":false}},
  "y":{"field":"o","type":"quantitative","scale":{"domain":[3753.6,4581.1],"nice":false,"zero":false},
   "axis":{"orient":"right","values":[4565.2,4537.6,4510.0,4482.8,4455.2,4427.6,4400.4,4372.8,4345.2,4318.0,4290.4,4262.8,4235.6,4208.0,4180.4,4153.2,4125.6,4098.0,4070.8,4043.2,4015.6,3988.4,3960.8,3933.2,3906.0,3878.4,3850.8,3823.6,3796.0,3768.4],"format":".2f","labelFontSize":15,"labelPadding":4,"labelOverlap":false,"labelFlush":false,"labelBound":false,"tickSize":4,"tickColor":"black","domain":false,"grid":true,"gridColor":"#c4c4c4","gridDash":[3,3],"gridWidth":1}},
  "y2":{"field":"c"},
  "fill":{"condition":{"test":"datum.c >= datum.o","value":"white"},"value":"black"}
 }},
{"data":{"name":"box"},"mark":{"type":"rect","fill":null,"fillOpacity":0,"stroke":"#f7a900","strokeWidth":4,"cornerRadius":32},
 "encoding":{
  "x":{"field":"x1","type":"quantitative","scale":{"domain":[-0.125,935.375],"nice":false,"zero":false},"axis":null},
  "x2":{"field":"x2"},
  "y":{"field":"p1","type":"quantitative","scale":{"domain":[3753.6,4581.1],"nice":false,"zero":false},"axis":null},
  "y2":{"field":"p2"}
 }},
{"data":{"name":"curves"},"mark":{"type":"line","color":"#f7a900","strokeWidth":3.5,"interpolate":"monotone"},
 "encoding":{
  "x":{"field":"x","type":"quantitative","scale":{"domain":[-0.125,935.375],"nice":false,"zero":false},"axis":null},
  "y":{"field":"p","type":"quantitative","scale":{"domain":[3753.6,4581.1],"nice":false,"zero":false},"axis":null},
  "detail":{"field":"s"},
  "order":{"field":"n","type":"quantitative"}
 }},
{"data":{"values":[{"x":617.4,"p":4534.2}]},"mark":{"type":"point","shape":"triangle-up","angle":82,"filled":true,"color":"#f7a900","size":110,"opacity":1},
 "encoding":{
  "x":{"field":"x","type":"quantitative","scale":{"domain":[-0.125,935.375],"nice":false,"zero":false},"axis":null},
  "y":{"field":"p","type":"quantitative","scale":{"domain":[3753.6,4581.1],"nice":false,"zero":false},"axis":null}
 }},
{"data":{"name":"trend"},"mark":{"type":"line","color":"#4a5cf4","strokeWidth":5,"strokeCap":"round"},
 "encoding":{
  "x":{"field":"x","type":"quantitative","scale":{"domain":[-0.125,935.375],"nice":false,"zero":false},"axis":null},
  "y":{"field":"p","type":"quantitative","scale":{"domain":[3753.6,4581.1],"nice":false,"zero":false},"axis":null},
  "detail":{"field":"s"}
 }},
{"data":{"name":"arrowSolid"},"mark":{"type":"line","color":"#f03c3c","strokeWidth":6,"strokeCap":"round"},
 "encoding":{
  "x":{"field":"x","type":"quantitative","scale":{"domain":[-0.125,935.375],"nice":false,"zero":false},"axis":null},
  "y":{"field":"p","type":"quantitative","scale":{"domain":[3753.6,4581.1],"nice":false,"zero":false},"axis":null}
 }},
{"data":{"name":"arrowDash"},"mark":{"type":"line","color":"#f03c3c","strokeWidth":6,"strokeDash":[14,8]},
 "encoding":{
  "x":{"field":"x","type":"quantitative","scale":{"domain":[-0.125,935.375],"nice":false,"zero":false},"axis":null},
  "y":{"field":"p","type":"quantitative","scale":{"domain":[3753.6,4581.1],"nice":false,"zero":false},"axis":null}
 }},
{"data":{"name":"heads"},"mark":{"type":"point","shape":"triangle-up","filled":true,"color":"#f03c3c","size":420,"opacity":1},
 "encoding":{
  "x":{"field":"x","type":"quantitative","scale":{"domain":[-0.125,935.375],"nice":false,"zero":false},"axis":null},
  "y":{"field":"p","type":"quantitative","scale":{"domain":[3753.6,4581.1],"nice":false,"zero":false},"axis":null},
  "angle":{"field":"a","type":"quantitative","scale":null}
 }},
{"data":{"name":"ends"},"mark":{"type":"point","shape":"square","filled":false,"fill":"white","stroke":"#ff0000","strokeWidth":1,"size":22,"opacity":1},
 "encoding":{
  "x":{"field":"x","type":"quantitative","scale":{"domain":[-0.125,935.375],"nice":false,"zero":false},"axis":null},
  "y":{"field":"p","type":"quantitative","scale":{"domain":[3753.6,4581.1],"nice":false,"zero":false},"axis":null}
 }},
{"data":{"name":"tags"},"mark":{"type":"tick","orient":"horizontal","size":80,"thickness":22,"opacity":1},
 "encoding":{
  "x":{"datum":945.8,"type":"quantitative","scale":{"domain":[-0.125,935.375],"nice":false,"zero":false},"axis":null},
  "y":{"field":"p","type":"quantitative","scale":{"domain":[3753.6,4581.1],"nice":false,"zero":false},"axis":null},
  "color":{"field":"k","type":"nominal","legend":null,"scale":{"domain":["4531.25","4453.12","4414.06","4375.00","4335.94","4315.15","4296.88","4257.81","4218.75","4179.69","4140.62","4101.56","4062.50","4023.44","3984.38"],"range":["#ff0000","#c71585","#ff00ff","#1e90ff","#ff8c00","#000000","#ff4500","#556b2f","#1e90ff","#556b2f","#ff4500","#ff8c00","#1e90ff","#ff00ff","#c71585"]}}
 }},
{"data":{"name":"tags"},"mark":{"type":"text","font":"DejaVu Sans","fontSize":15,"color":"white","align":"center","baseline":"middle"},
 "encoding":{
  "x":{"datum":945.8,"type":"quantitative","scale":{"domain":[-0.125,935.375],"nice":false,"zero":false},"axis":null},
  "y":{"field":"p","type":"quantitative","scale":{"domain":[3753.6,4581.1],"nice":false,"zero":false},"axis":null},
  "text":{"field":"k"}
 }},
{"data":{"values":[{"t":"▼  ETHEREUM,M30  4297.84 4320.73 4294.92 4315.15"}]},"mark":{"type":"text","font":"DejaVu Sans","fontSize":16.5,"color":"black","align":"left","baseline":"middle"},
 "encoding":{
  "x":{"datum":0.9,"type":"quantitative","scale":{"domain":[-0.125,935.375],"nice":false,"zero":false},"axis":null},
  "y":{"datum":4574.8,"type":"quantitative","scale":{"domain":[3753.6,4581.1],"nice":false,"zero":false},"axis":null},
  "text":{"field":"t"}
 }},
{"data":{"values":[{"x":467.1,"p":4579.6}]},"mark":{"type":"point","shape":"triangle-down","filled":true,"color":"#9a9a9a","size":70,"opacity":1},
 "encoding":{
  "x":{"field":"x","type":"quantitative","scale":{"domain":[-0.125,935.375],"nice":false,"zero":false},"axis":null},
  "y":{"field":"p","type":"quantitative","scale":{"domain":[3753.6,4581.1],"nice":false,"zero":false},"axis":null}
 }}
]
}
